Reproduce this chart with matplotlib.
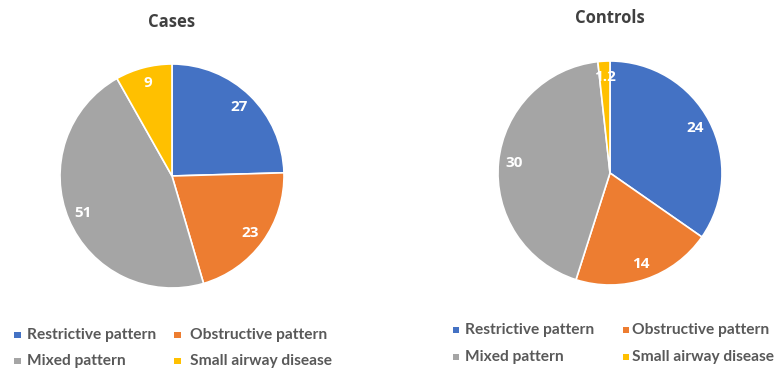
import matplotlib
matplotlib.use("Agg")
import matplotlib.pyplot as plt
from matplotlib.patches import Rectangle

categories = ["Restrictive pattern", "Obstructive pattern", "Mixed pattern", "Small airway disease"]
cases_values = [27, 23, 51, 9]
controls_values = [24, 14, 30, 1.2]
colors = ["#4472C4", "#ED7D31", "#A5A5A5", "#FFC000"]

W, H = 776, 369
fig = plt.figure(figsize=(W / 100, H / 100), dpi=100)
fig.patch.set_facecolor("white")

plt.rcParams["font.family"] = ["Open Sans", "DejaVu Sans"]
TEXT_GREY = "#595959"


def px_axes(cx, cy, r):
    # axes box (in figure fraction) for a pie centred at pixel (cx, cy)
    return [(cx - r) / W, (H - cy - r) / H, 2 * r / W, 2 * r / H]


def draw_pie(cx, cy, r, values, title, title_x, title_y):
    ax = fig.add_axes(px_axes(cx, cy, r))
    total = sum(values)
    wedges, texts, autotexts = ax.pie(
        values,
        colors=colors,
        startangle=90,
        counterclock=False,
        radius=1.0,
        autopct=lambda p: f"{round(p * total / 100, 1):g}",
        pctdistance=0.86,
        wedgeprops=dict(edgecolor="white", linewidth=1.2),
        textprops=dict(color="white", fontsize=11, fontweight="bold"),
    )
    ax.set_xlim(-1, 1)
    ax.set_ylim(-1, 1)
    ax.set_aspect("equal")
    ax.axis("off")
    fig.text(title_x / W, 1 - title_y / H, title, ha="center", va="center",
             fontsize=12, fontweight="bold", color="#404040")
    return ax


draw_pie(172, 176, 112, cases_values, "Cases", 172, 22)
draw_pie(610, 173, 112, controls_values, "Controls", 610, 18)


def draw_legend(x_cols, text_cols, rows):
    sq = 6.5
    for i, name in enumerate(categories):
        col, row = i % 2, i // 2
        mx, ty = x_cols[col], rows[row]
        fig.patches.append(Rectangle(((mx - sq / 2) / W, 1 - (ty + sq / 2) / H), sq / W, sq / H,
                                     transform=fig.transFigure, facecolor=colors[i],
                                     edgecolor="none"))
        fig.text(text_cols[col] / W, 1 - ty / H, name, ha="left", va="center",
                 fontsize=11.2, fontweight="bold", color=TEXT_GREY, family=["Lato", "DejaVu Sans"])


draw_legend([17.5, 177.5], [27, 190], [335, 361])
draw_legend([456, 626], [465, 632], [330, 357])

fig.savefig("out.png", dpi=100, facecolor="white")
